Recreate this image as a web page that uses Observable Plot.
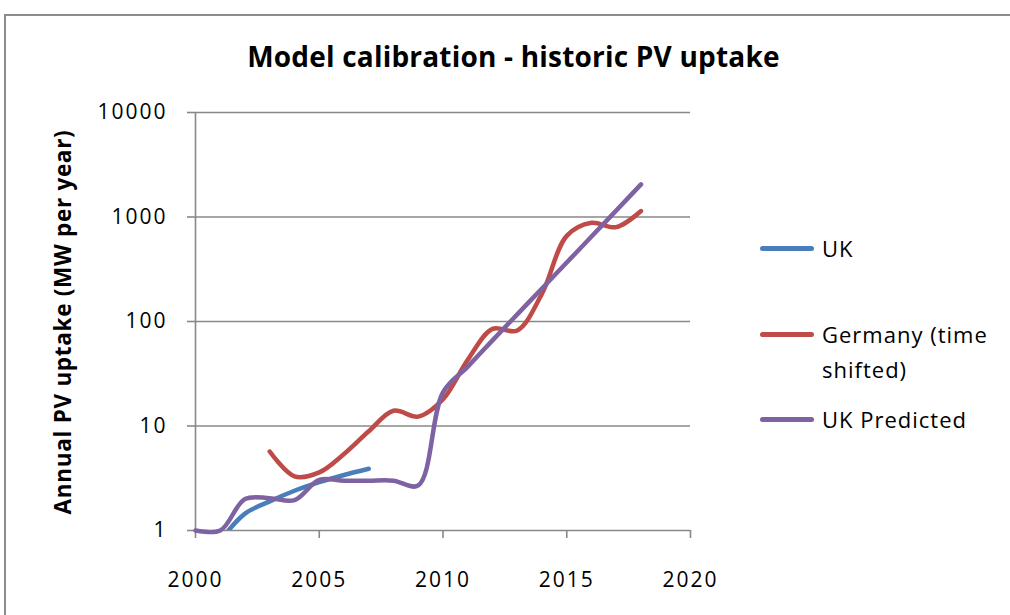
<!DOCTYPE html>
<html><head><meta charset="utf-8">
<script src="https://cdn.jsdelivr.net/npm/d3@7"></script>
<script src="https://cdn.jsdelivr.net/npm/@observablehq/plot@0.6"></script>
<style>
body{margin:0;background:#fff;font-family:"Open Sans",sans-serif;color:#000;}
#wrap{position:relative;width:1010px;height:615px;overflow:hidden;background:#fff;}
#border{position:absolute;left:4px;top:14px;width:1100px;height:700px;border:2px solid #8c8c8c;box-sizing:border-box;}
#chart{position:absolute;left:0;top:0;}
#title{position:absolute;left:0;width:1027px;top:37px;text-align:center;font-weight:bold;font-size:28px;letter-spacing:0.2px;line-height:38px;white-space:nowrap;}
#ylabel{position:absolute;left:62px;top:322px;transform:translate(-50%,-50%) rotate(-90deg);font-weight:bold;font-size:22.5px;letter-spacing:0.7px;white-space:nowrap;}
.sw{position:absolute;left:760px;width:54px;height:5px;border-radius:3px;}
.lt{position:absolute;left:822px;font-size:22px;letter-spacing:1px;line-height:35px;white-space:nowrap;}
</style>
</head><body>
<div id="wrap">
  <div id="border"></div>
  <div id="chart"></div>
  <div id="title"></div>
  <div id="ylabel"></div>
  <div id="legend"></div>
</div>
<script>
const chartTitle = "Model calibration - historic PV uptake";
const yAxisTitle = "Annual PV uptake (MW per year)";
const seriesNames = ["UK", "Germany (time shifted)", "UK Predicted"];
const seriesColors = ["#4A7EBB", "#BE4B48", "#7E62A1"];

const ukYears = [2001, 2002, 2003, 2004, 2005, 2006, 2007];
const ukValues = [0.8, 1.45, 1.9, 2.4, 2.9, 3.4, 3.9];

const deYears = [2003, 2004, 2005, 2006, 2007, 2008, 2009, 2010, 2011, 2012, 2013, 2014, 2015, 2016, 2017, 2018];
const deValues = [5.7, 3.3, 3.6, 5.4, 8.9, 14, 12.3, 18, 43, 85, 82, 185, 660, 880, 800, 1140];

const predYears = [2000, 2001, 2002, 2003, 2004, 2005, 2006, 2007, 2008, 2009, 2010, 2011, 2012, 2013, 2014, 2015, 2016, 2017, 2018];
const predValues = [1, 1, 2.0, 2.04, 1.95, 3.05, 3.0, 3.0, 3.0, 2.7, 21, 37, 66, 117, 207, 367, 650, 1155, 2050];

const xTicks = [2000, 2005, 2010, 2015, 2020];
const yTicks = [1, 10, 100, 1000, 10000];

const toRows = (xs, ys) => xs.map((x, i) => ({year: x, value: ys[i]}));
const uk = toRows(ukYears, ukValues);
const de = toRows(deYears, deValues);
const pred = toRows(predYears, predValues);

const gridColor = "#888888";

const chart = Plot.plot({
  width: 1010,
  height: 615,
  marginLeft: 195,
  marginRight: 320,
  marginTop: 112,
  marginBottom: 85,
  style: {fontFamily: "'Open Sans', sans-serif", fontSize: "21px", letterSpacing: "2px", color: "#000", background: "transparent"},
  x: {domain: [2000, 2020]},
  y: {type: "log", domain: [1, 10000]},
  marks: [
    Plot.ruleY(yTicks, {stroke: gridColor, strokeWidth: 1.6}),
    Plot.ruleX([2000], {stroke: gridColor, strokeWidth: 1.6}),
    Plot.axisX({ticks: xTicks, tickFormat: d => String(d), tickSize: 8, tickPadding: 34, stroke: gridColor, strokeWidth: 1.6, label: null}),
    Plot.axisY({ticks: yTicks, tickFormat: d => String(d), tickSize: 8, tickPadding: 20, stroke: gridColor, strokeWidth: 1.6, label: null}),
    Plot.line(uk, {x: "year", y: "value", curve: "catmull-rom", stroke: seriesColors[0], strokeWidth: 4.5, strokeLinecap: "round", clip: true}),
    Plot.line(de, {x: "year", y: "value", curve: "catmull-rom", stroke: seriesColors[1], strokeWidth: 4.5, strokeLinecap: "round"}),
    Plot.line(pred, {x: "year", y: "value", curve: "catmull-rom", stroke: seriesColors[2], strokeWidth: 4.5, strokeLinecap: "round"})
  ]
});
document.getElementById("chart").appendChild(chart);
document.getElementById("title").textContent = chartTitle;
document.getElementById("ylabel").textContent = yAxisTitle;

const legend = document.getElementById("legend");
const legendRows = [
  {name: "UK", lines: ["UK"], y: 248},
  {name: "Germany (time shifted)", lines: ["Germany (time", "shifted)"], y: 334},
  {name: "UK Predicted", lines: ["UK Predicted"], y: 419}
];
legendRows.forEach((r, i) => {
  const sw = document.createElement("div");
  sw.className = "sw";
  sw.style.top = (r.y - 2.5) + "px";
  sw.style.background = seriesColors[i];
  legend.appendChild(sw);
  const t = document.createElement("div");
  t.className = "lt";
  t.style.top = (r.y - 17.5) + "px";
  t.innerHTML = r.lines.join("<br>");
  legend.appendChild(t);
});
</script>
</body></html>
